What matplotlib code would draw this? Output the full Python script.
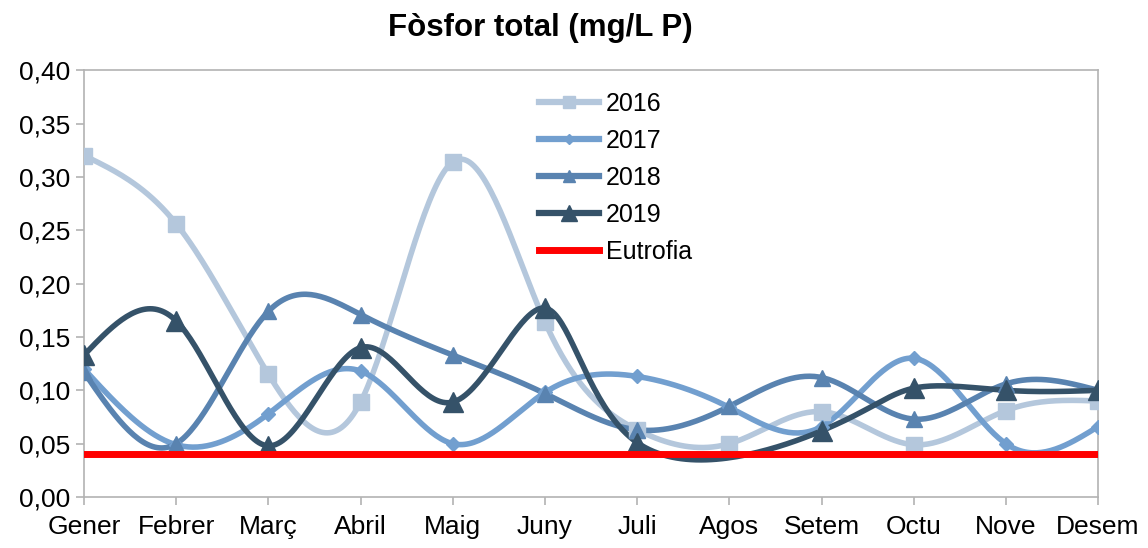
import numpy as np
import matplotlib
matplotlib.use("Agg")
import matplotlib.pyplot as plt

plt.rcParams['font.family'] = ['Liberation Sans', 'DejaVu Sans']

# mesos i valors (mg/L P)
mesos = ['Gener', 'Febrer', 'Març', 'Abril', 'Maig', 'Juny',
         'Juli', 'Agos', 'Setem', 'Octu', 'Nove', 'Desem']
v2016 = [0.320, 0.256, 0.115, 0.089, 0.314, 0.164, 0.063, 0.050, 0.080, 0.049, 0.081, 0.090]
v2017 = [0.120, 0.049, 0.078, 0.118, 0.050, 0.098, 0.113, 0.084, 0.066, 0.130, 0.050, 0.066]
v2018 = [0.117, 0.050, 0.174, 0.171, 0.133, 0.097, 0.063, 0.085, 0.112, 0.073, 0.106, 0.100]
v2019 = [0.133, 0.165, 0.048, 0.140, 0.089, 0.177, 0.051, np.nan, 0.062, 0.102, 0.100, 0.100]
eutrofia = 0.04


def natural(t, v):
    # segones derivades d'un spline cubic natural
    m = len(t)
    h = np.diff(t)
    A = np.zeros((m, m))
    b = np.zeros(m)
    A[0, 0] = A[-1, -1] = 1
    for i in range(1, m - 1):
        A[i, i - 1] = h[i - 1]
        A[i, i] = 2 * (h[i - 1] + h[i])
        A[i, i + 1] = h[i]
        b[i] = 6 * ((v[i + 1] - v[i]) / h[i] - (v[i] - v[i - 1]) / h[i - 1])
    return np.linalg.solve(A, b)


def evalsp(t, v, M, i, tt):
    h = t[i + 1] - t[i]
    a = t[i + 1] - tt
    c = tt - t[i]
    return (M[i] * a**3 + M[i + 1] * c**3) / (6 * h) \
        + (v[i] / h - M[i] * h / 6) * a + (v[i + 1] / h - M[i + 1] * h / 6) * c


def spline(x, y, n=40):
    # spline parametric sobre l'index del punt (com el full de càlcul)
    x = np.asarray(x, float)
    y = np.asarray(y, float)
    ok = ~np.isnan(y)
    x, y = x[ok], y[ok]
    t = np.arange(len(x), dtype=float)
    Mx = natural(t, x)
    My = natural(t, y)
    xs, ys = [], []
    for i in range(len(t) - 1):
        tt = np.linspace(t[i], t[i + 1], n)
        xs.extend(evalsp(t, x, Mx, i, tt))
        ys.extend(evalsp(t, y, My, i, tt))
    return np.array(xs), np.array(ys)


fig = plt.figure(figsize=(11.48, 5.48), dpi=100)
ax = fig.add_axes([0.0732, 0.093, 0.8833, 0.779])
x = np.arange(len(mesos))

series = [
    ('2016', v2016, '#b4c7dc', 's', 11),
    ('2017', v2017, '#729fcf', 'D', 7),
    ('2018', v2018, '#5983b0', '^', 11),
    ('2019', v2019, '#355269', '^', 15),
]
for nom, vals, col, mk, ms in series:
    xs, ys = spline(x, vals)
    ax.plot(xs, ys, color=col, lw=4, solid_capstyle='round', zorder=2)
    ax.plot(x, vals, ls='none', marker=mk, ms=ms, color=col, zorder=3)
    ax.plot([], [], color=col, lw=4.5, marker=mk, ms=ms * 0.8, label=nom)

ax.plot([x[0], x[-1]], [eutrofia, eutrofia], color='#ff0000', lw=5, zorder=4,
        label='Eutrofia')

ax.set_xlim(0, 11)
ax.set_ylim(0, 0.40)
ax.set_xticks(x)
ax.set_xticklabels(mesos)
yt = np.arange(0, 0.401, 0.05)
ax.set_yticks(yt)
ax.set_yticklabels([f'{v:.2f}'.replace('.', ',') for v in yt])
ax.tick_params(labelsize=19, color='#b3b3b3', length=6, width=1.2)
ax.tick_params(axis='x', pad=7)
ax.tick_params(axis='y', pad=4)
for s in ax.spines.values():
    s.set_color('#b3b3b3')
    s.set_linewidth(1.2)

fig.text(0.471, 0.948, 'Fòsfor total (mg/L P)', fontsize=22.5, fontweight='bold',
         ha='center', va='center')
ax.legend(loc='upper left', bbox_to_anchor=(0.436, 0.979), frameon=False,
          borderpad=0, fontsize=18, handlelength=2.4, labelspacing=0.52,
          handletextpad=0.3)

fig.savefig('out.png', dpi=100)
